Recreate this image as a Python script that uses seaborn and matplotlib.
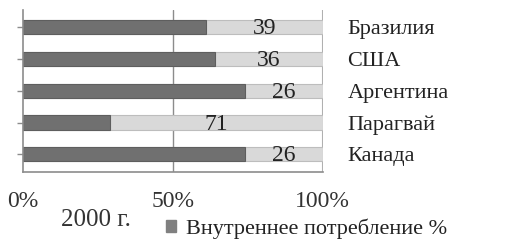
import matplotlib
matplotlib.use("Agg")
import matplotlib.pyplot as plt
import seaborn as sns
import pandas as pd
from matplotlib.patches import Patch

# данные: экспорт % (подписи) и внутреннее потребление %
страны = ["Бразилия", "США", "Аргентина", "Парагвай", "Канада"]
экспорт = [39, 36, 26, 71, 26]
внутреннее = [61, 64, 74, 29, 74]
итого = [100, 100, 100, 100, 100]

df = pd.DataFrame({"страна": страны, "экспорт": экспорт,
                   "внутр": внутреннее, "итого": итого})

sns.set_style("white")
plt.rcParams["font.family"] = ["Liberation Serif", "DejaVu Serif"]

fig = plt.figure(figsize=(5.08, 2.42), dpi=100)
ax = fig.add_axes([0.045, 0.29, 0.59, 0.67])

# светлая часть (экспорт) — полная полоса, поверх тёмная
sns.barplot(data=df, y="страна", x="итого", color="#d9d9d9", orient="h",
            width=0.45, edgecolor="#bdbdbd", linewidth=0.8, ax=ax,
            saturation=1)
sns.barplot(data=df, y="страна", x="внутр", color="#707070", orient="h",
            width=0.45, edgecolor="#5e5e5e", linewidth=0.8, ax=ax,
            saturation=1)

# подписи по центру светлой части
for i, (v, e) in enumerate(zip(внутреннее, экспорт)):
    ax.text(v + e / 2, i + 0.05, str(e), ha="center", va="center",
            fontsize=17, color="#222222")

ax.set_xlim(0, 100)
ax.set_ylim(4.55, -0.55)
ax.axvline(50, color="#8c8c8c", lw=1, zorder=0)
ax.axvline(100, color="#b0b0b0", lw=1.5, zorder=0)

ax.set_xticks([0, 50, 100])
ax.set_xticklabels(["0%", "50%", "100%"], fontsize=17, color="#333333")
ax.tick_params(axis="x", length=5, width=1, color="#8c8c8c", pad=9)
ax.set_yticks(range(len(страны)))
ax.set_yticklabels(страны, fontsize=16, color="#222222")
ax.tick_params(axis="y", left=True, right=False, labelleft=False,
               labelright=True, length=4, width=1, color="#8c8c8c", pad=14)
ax.set_xlabel("")
ax.set_ylabel("")

for s in ["top", "right"]:
    ax.spines[s].set_visible(False)
for s in ["left", "bottom"]:
    ax.spines[s].set_color("#8c8c8c")
    ax.spines[s].set_linewidth(1.2)

fig.text(0.12, 0.09, "2000 г.", fontsize=18, color="#333333", va="center")
fig.legend(handles=[Patch(color="#808080", label="Внутреннее потребление %")],
           loc="center left", bbox_to_anchor=(0.305, 0.055), frameon=False,
           prop={"family": "Liberation Serif", "size": 16},
           handlelength=0.45, handleheight=0.45, borderpad=0,
           handletextpad=0.45, labelcolor="#222222")

fig.savefig("out.png", dpi=100)
